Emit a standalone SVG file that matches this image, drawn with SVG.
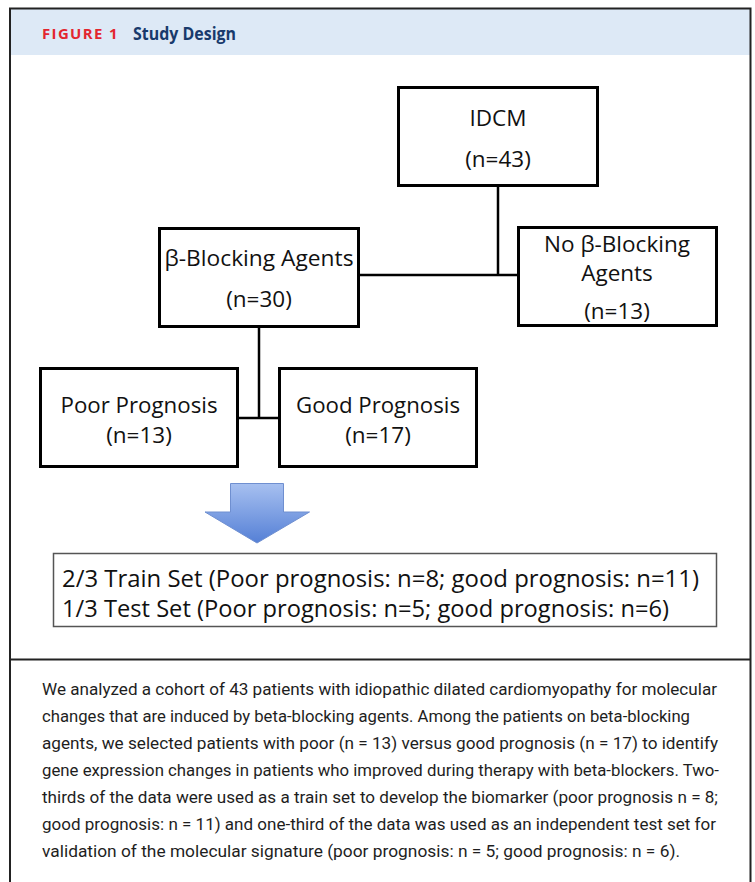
<svg xmlns="http://www.w3.org/2000/svg" width="755" height="882" viewBox="0 0 755 882">
<defs>
<style>
.box{fill:#fff;stroke:#000;stroke-width:3}
.lbl{font-family:"Open Sans","Liberation Sans",sans-serif;font-size:22.5px;fill:#111;text-anchor:middle}
.res{font-family:"Open Sans","Liberation Sans",sans-serif;font-size:24px;fill:#111}
.cap{font-family:"Roboto","Liberation Sans",sans-serif;font-size:16.5px;fill:#1e1e1e}
.conn{stroke:#000;stroke-width:2.5;fill:none}
</style>
<linearGradient id="ag" x1="0" y1="0" x2="0" y2="1">
<stop offset="0" stop-color="#a7c0f0"/>
<stop offset="1" stop-color="#5580d6"/>
</linearGradient>
</defs>
<rect x="0" y="0" width="755" height="882" fill="#fff"/>
<rect x="10" y="9" width="740" height="46" fill="#dde9f6"/>
<path d="M10 882 V8.5 H750.5 V882" fill="none" stroke="#222" stroke-width="2"/>
<line x1="10" y1="659.5" x2="751" y2="659.5" stroke="#222" stroke-width="2"/>
<text x="42" y="39" font-family="'Open Sans','Liberation Sans',sans-serif" font-weight="bold" font-size="15" letter-spacing="1.4" fill="#e3262f" textLength="77" lengthAdjust="spacingAndGlyphs">FIGURE 1</text>
<text x="133" y="39.5" font-family="'Open Sans','Liberation Sans',sans-serif" font-weight="bold" font-size="17" fill="#183a6c" textLength="103" lengthAdjust="spacingAndGlyphs">Study Design</text>

<g id="connectors">
<line class="conn" x1="498" y1="186" x2="498" y2="275"/>
<line class="conn" x1="359" y1="275" x2="519" y2="275"/>
<line class="conn" x1="259" y1="327" x2="259" y2="418"/>
<line class="conn" x1="237" y1="418" x2="280" y2="418"/>
</g>

<g id="idcm">
<rect class="box" x="398.5" y="87.5" width="199" height="98"/>
<text class="lbl" x="498" y="126">IDCM</text>
<text class="lbl" x="498" y="167">(n=43)</text>
</g>
<g id="beta">
<rect class="box" x="159.5" y="228.5" width="199" height="98"/>
<text class="lbl" x="259" y="266" textLength="189" lengthAdjust="spacingAndGlyphs">β-Blocking Agents</text>
<text class="lbl" x="259" y="307">(n=30)</text>
</g>
<g id="nobeta">
<rect class="box" x="518.5" y="227.5" width="198" height="98"/>
<text class="lbl" x="617" y="252" textLength="146" lengthAdjust="spacingAndGlyphs">No β-Blocking</text>
<text class="lbl" x="617" y="281">Agents</text>
<text class="lbl" x="617" y="319">(n=13)</text>
</g>
<g id="poor">
<rect class="box" x="40.5" y="368.5" width="197" height="98"/>
<text class="lbl" x="139" y="413" textLength="157" lengthAdjust="spacingAndGlyphs">Poor Prognosis</text>
<text class="lbl" x="139" y="443">(n=13)</text>
</g>
<g id="good">
<rect class="box" x="279.5" y="368.5" width="197" height="98"/>
<text class="lbl" x="378" y="413" textLength="164" lengthAdjust="spacingAndGlyphs">Good Prognosis</text>
<text class="lbl" x="378" y="443">(n=17)</text>
</g>
<g id="arrow">
<path d="M230.5 483.5 H283.5 V512 H309.5 L257 543 L205 512 H230.5 Z" fill="url(#ag)" stroke="#6f8fd0" stroke-width="1"/>
</g>
<g id="result">
<rect x="53.5" y="553.5" width="663" height="73" fill="#fff" stroke="#555" stroke-width="1.5"/>
<text class="res" x="62" y="587" textLength="637" lengthAdjust="spacingAndGlyphs">2/3 Train Set (Poor prognosis: n=8; good prognosis: n=11)</text>
<text class="res" x="62" y="617" textLength="607" lengthAdjust="spacingAndGlyphs">1/3 Test Set (Poor prognosis: n=5; good prognosis: n=6)</text>
</g>
<g id="caption">
<text class="cap" x="42" y="695" textLength="675" lengthAdjust="spacingAndGlyphs">We analyzed a cohort of 43 patients with idiopathic dilated cardiomyopathy for molecular</text>
<text class="cap" x="42" y="722" textLength="648" lengthAdjust="spacingAndGlyphs">changes that are induced by beta-blocking agents. Among the patients on beta-blocking</text>
<text class="cap" x="42" y="749" textLength="676" lengthAdjust="spacingAndGlyphs">agents, we selected patients with poor (n = 13) versus good prognosis (n = 17) to identify</text>
<text class="cap" x="42" y="776" textLength="677" lengthAdjust="spacingAndGlyphs">gene expression changes in patients who improved during therapy with beta-blockers. Two-</text>
<text class="cap" x="42" y="803" textLength="676" lengthAdjust="spacingAndGlyphs">thirds of the data were used as a train set to develop the biomarker (poor prognosis n = 8;</text>
<text class="cap" x="42" y="830" textLength="674" lengthAdjust="spacingAndGlyphs">good prognosis: n = 11) and one-third of the data was used as an independent test set for</text>
<text class="cap" x="42" y="857" textLength="638" lengthAdjust="spacingAndGlyphs">validation of the molecular signature (poor prognosis: n = 5; good prognosis: n = 6).</text>
</g>
</svg>
